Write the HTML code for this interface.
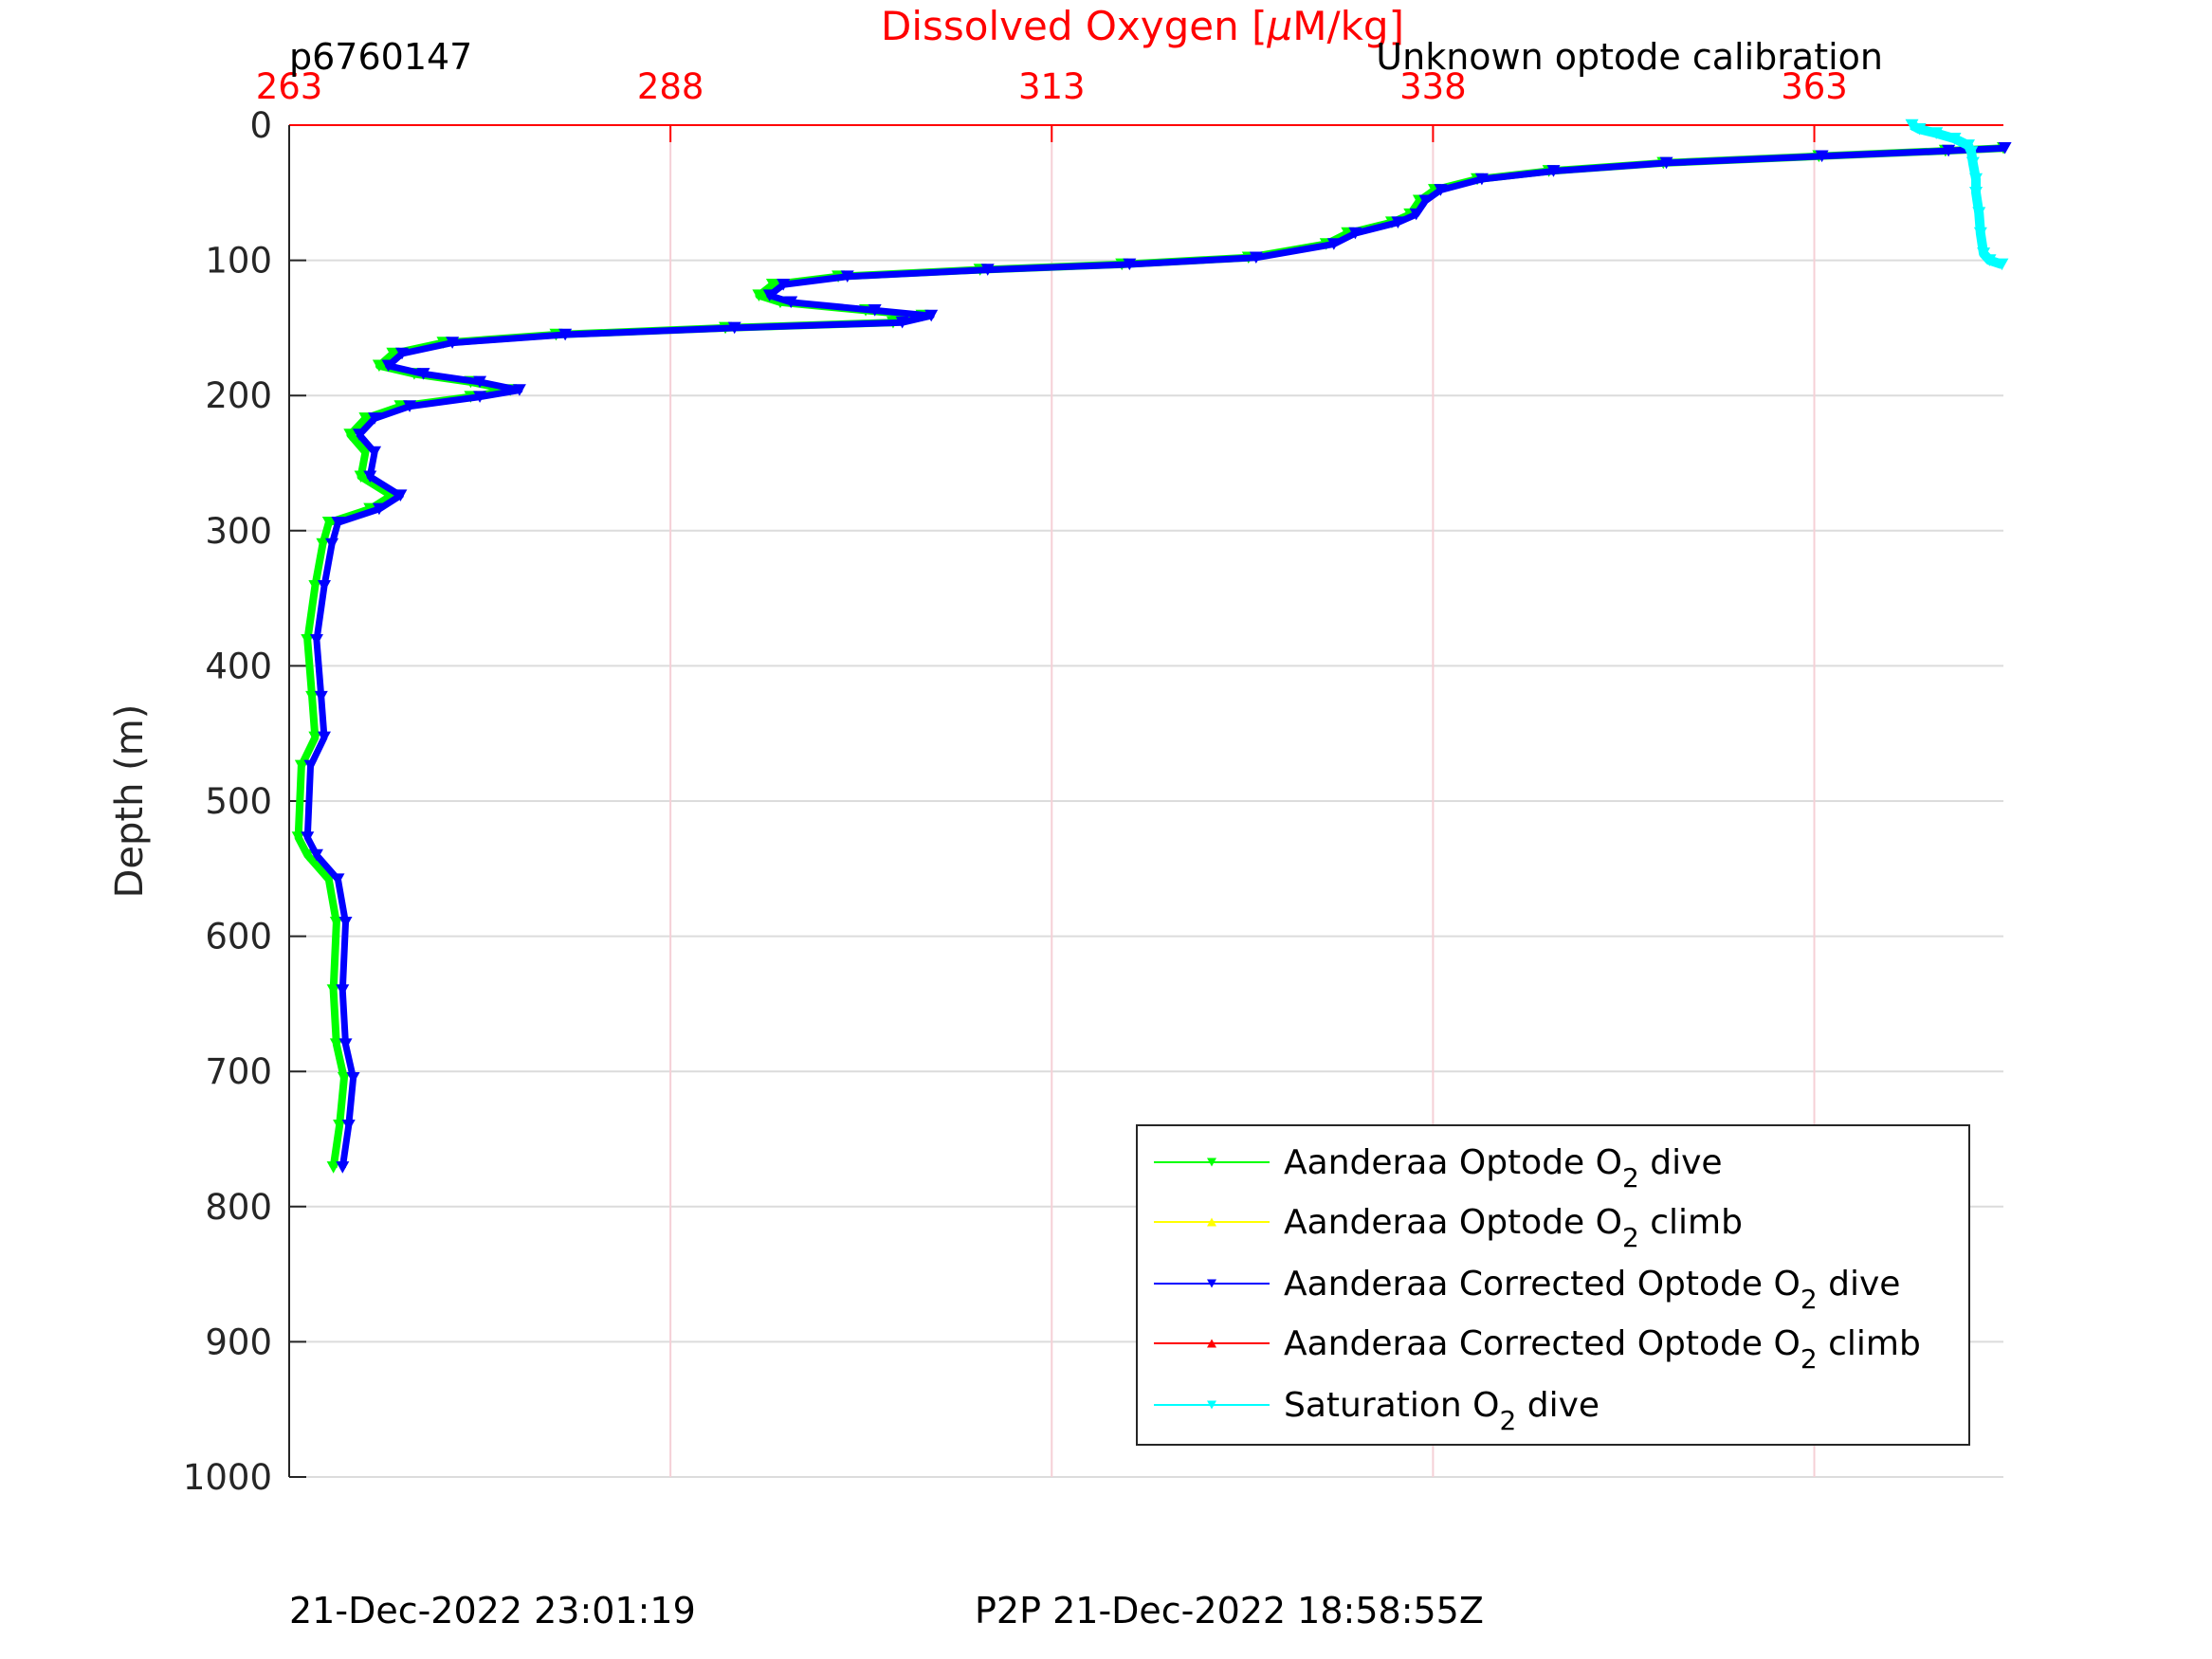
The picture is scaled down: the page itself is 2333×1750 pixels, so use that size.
<!DOCTYPE html>
<html><head><meta charset="utf-8">
<style>
html,body{margin:0;padding:0;background:#fff;}
svg{display:block;font-family:"DejaVu Sans","Liberation Sans",sans-serif;}
</style></head>
<body>
<svg id="chart" width="2333" height="1750" viewBox="0 0 2333 1750" xmlns="http://www.w3.org/2000/svg">
<rect width="2333" height="1750" fill="#fff"/>
<g id="grid"></g>
<g id="axes"></g>
<g id="series"></g>
<text x="1205" y="42" font-size="42" fill="#ff0000" text-anchor="middle">Dissolved Oxygen [<tspan font-style="italic">μ</tspan>M/kg]</text>
<text x="305" y="73" font-size="38" fill="#000">p6760147</text>
<text x="1986" y="73" font-size="38" fill="#000" text-anchor="end">Unknown optode calibration</text>
<text x="150" y="845" font-size="40" fill="#262626" text-anchor="middle" transform="rotate(-90 150 845)">Depth (m)</text>
<text x="305" y="1712" font-size="38" fill="#000">21-Dec-2022 23:01:19</text>
<text x="1028" y="1712" font-size="38" fill="#000">P2P 21-Dec-2022 18:58:55Z</text>
<g id="legend"></g>
</svg>
<script>
const xTicks = [263, 288, 313, 338, 363];
const yTicks = [0, 100, 200, 300, 400, 500, 600, 700, 800, 900, 1000];
const greenO2 = [375.4,371.6,363.3,353.1,345.6,340.9,338.1,337.1,336.5,335.3,332.4,331.0,325.9,317.6,308.3,299.0,294.7,293.8,295.2,300.8,304.5,302.6,291.6,280.5,273.1,269.8,268.9,271.2,274.9,277.5,274.9,270.3,268.0,267.0,268.0,267.7,269.7,268.3,265.6,265.2,264.7,264.2,264.5,264.7,263.8,263.6,264.2,265.6,266.1,265.9,266.1,266.6,266.3,265.9];
const greenDepth = [17,19,23,28,34,40,48,56,66,72,80,88,98,103,107,112,118,126,131,137,141,146,150,155,161,169,178,184,190,196,201,208,217,229,242,260,274,284,294,310,341,381,423,453,474,527,540,558,590,640,680,705,740,771];
const blueO2 = [375.5,371.8,363.5,353.3,345.9,341.2,338.5,337.5,336.9,335.7,332.9,331.5,326.4,318.1,308.8,299.6,295.4,294.5,295.9,301.4,305.1,303.2,292.2,281.1,273.7,270.4,269.5,271.8,275.5,278.1,275.5,270.9,268.6,267.6,268.6,268.3,270.3,268.9,266.2,265.8,265.3,264.8,265.1,265.3,264.4,264.2,264.8,266.2,266.7,266.5,266.7,267.2,266.9,266.5];
const blueDepth = [17,19,23,28,34,40,48,56,66,72,80,88,98,103,107,112,118,126,131,137,141,146,150,155,161,169,178,184,190,196,201,208,217,229,242,260,274,284,294,310,341,381,423,453,474,527,540,558,590,640,680,705,740,771];
const satO2 = [369.4,369.9,371.0,372.2,373.1,373.3,373.4,373.6,373.6,373.8,373.9,374.1,374.5,375.3];
const satDepth = [0,3,6,10,15,20,28,40,50,65,80,95,100,103];
const legendLabels = ["Aanderaa Optode O|2| dive","Aanderaa Optode O|2| climb","Aanderaa Corrected Optode O|2| dive","Aanderaa Corrected Optode O|2| climb","Saturation O|2| dive"];
const legendColors = ["#00ff00","#ffff00","#0000ff","#ff0000","#00ffff"];

const L=305,R=2113,T=132,B=1558,xMin=263,xMax=375.4,yMin=0,yMax=1000;
const NS="http://www.w3.org/2000/svg";
function xs(v){return L+(v-xMin)/(xMax-xMin)*(R-L);}
function ys(v){return T+(v-yMin)/(yMax-yMin)*(B-T);}
function mk(tag,attrs,parent){const e=document.createElementNS(NS,tag);for(const k in attrs)e.setAttribute(k,attrs[k]);parent.appendChild(e);return e;}
const grid=document.getElementById('grid'),axes=document.getElementById('axes'),series=document.getElementById('series'),legend=document.getElementById('legend');

yTicks.forEach(v=>{
  const g=mk('line',{x1:L,x2:R,y1:ys(v),y2:ys(v),stroke:'#dcdcdc','stroke-width':2},grid);
  
  
  const t=mk('line',{x1:L,x2:L+18,y1:ys(v),y2:ys(v),stroke:'#262626','stroke-width':2},axes);
  
  
  const lb=mk('text',{x:L-18,y:ys(v)+13,'font-size':37,fill:'#262626','text-anchor':'end'},axes);
  lb.textContent=v;
  
  
});
xTicks.forEach(v=>{
  const g=mk('line',{x1:xs(v),x2:xs(v),y1:T,y2:B,stroke:'#f5d0d6','stroke-width':2},grid);
  
  
  const t=mk('line',{x1:xs(v),x2:xs(v),y1:T,y2:T+18,stroke:'#ff0000','stroke-width':2},axes);
  
  
  const lb=mk('text',{x:xs(v),y:T-28,'font-size':37,fill:'#ff0000','text-anchor':'middle'},axes);
  lb.textContent=v;
  
  
});
const ax1=mk('line',{x1:L,x2:R,y1:T,y2:T,stroke:'#ff0000','stroke-width':2},axes);


const ax2=mk('line',{x1:L,x2:L,y1:T,y2:B,stroke:'#262626','stroke-width':2},axes);



function tri(cx,cy,s,color,parent,up){
  const h=s*0.9;
  const pts=up?`${cx-s/2},${cy+h/2} ${cx+s/2},${cy+h/2} ${cx},${cy-h/2}`:`${cx-s/2},${cy-h/2} ${cx+s/2},${cy-h/2} ${cx},${cy+h/2}`;
  return mk('polygon',{points:pts,fill:color},parent);
}
function drawSeries(xv,yv,color,name,width,msize){
  const g=mk('g',{},series);
  
  
  const pts=xv.map((v,i)=>xs(v)+','+ys(yv[i])).join(' ');
  const pl=mk('polyline',{points:pts,fill:'none',stroke:color,'stroke-width':width,'stroke-linejoin':'round'},g);
  
  
  xv.forEach((v,i)=>{
    const m=tri(xs(v),ys(yv[i]),msize,color,g,false);
    
    
  });
}
drawSeries(greenO2,greenDepth,'#00ff00','optode-dive',8,14);
drawSeries(blueO2,blueDepth,'#0000ff','corrected-optode-dive',7,14);
drawSeries(satO2,satDepth,'#00ffff','saturation-dive',10,14);

const lb=mk('rect',{x:1199,y:1187,width:878,height:337,fill:'#fff',stroke:'#262626','stroke-width':2},legend);


const ly=[1226,1289,1354,1417,1482];
legendLabels.forEach((s,i)=>{
  const g=mk('g',{},legend);
  
  
  mk('line',{x1:1217,x2:1339,y1:ly[i],y2:ly[i],stroke:legendColors[i],'stroke-width':2},g);
  tri(1278,ly[i],10,legendColors[i],g,i===1||i===3);
  const t=mk('text',{x:1354,y:ly[i]+12,'font-size':36,fill:'#000'},g);
  const parts=s.split('|');
  t.appendChild(document.createTextNode(parts[0]));
  const sub=mk('tspan',{dy:14,'font-size':28},t);
  sub.textContent=parts[1];
  const rest=mk('tspan',{dy:-14},t);
  rest.textContent=parts[2];
});
</script>
</body></html>
